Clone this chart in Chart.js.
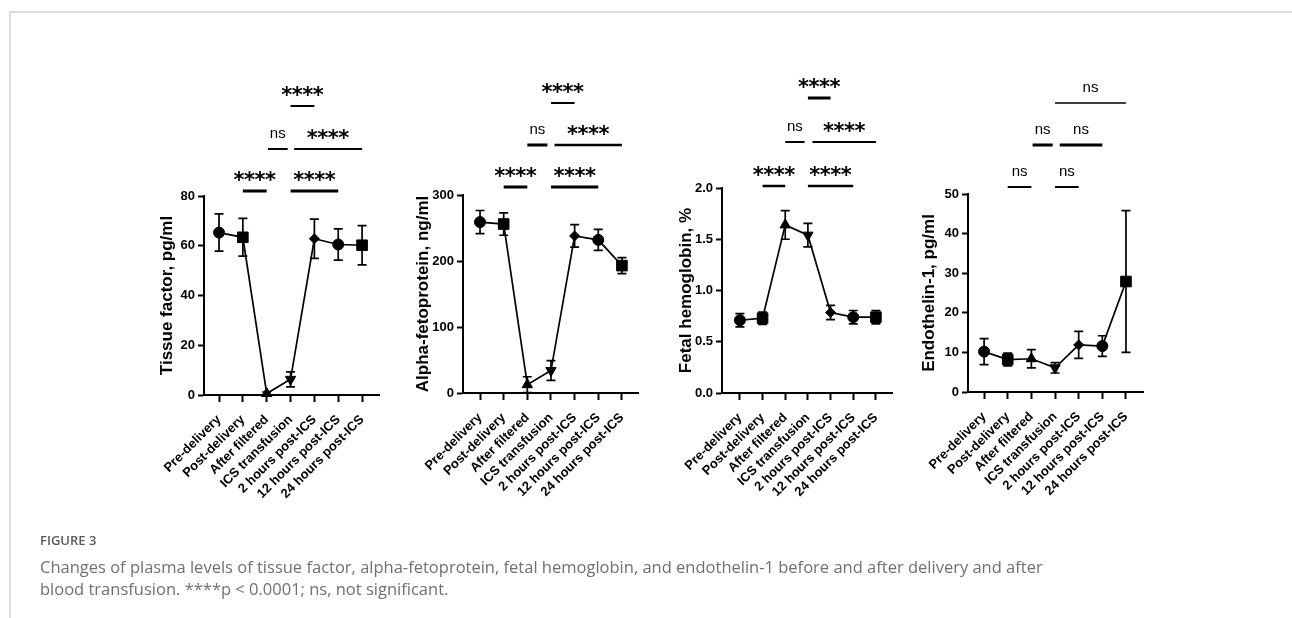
<!DOCTYPE html>
<html>
<head>
<meta charset="utf-8">
<script src="https://cdn.jsdelivr.net/npm/chart.js@4.4.1/dist/chart.umd.min.js"></script>
<style>
html,body{margin:0;padding:0;background:#fff;width:1292px;height:618px;overflow:hidden;}
body{position:relative;}
canvas.p{position:absolute;left:0;top:0;}
#frameTop{position:absolute;left:9px;top:11px;width:1283px;height:2px;background:#dddddd;}
#frameLeft{position:absolute;left:9px;top:11px;width:2px;height:607px;background:#dddddd;}
#figlab{position:absolute;left:40px;top:532px;font-family:'Open Sans',sans-serif;font-weight:600;font-size:13px;line-height:17px;color:#5a5a5a;white-space:nowrap;}
#cap{position:absolute;left:40px;top:556px;font-family:'Open Sans',sans-serif;font-size:16.5px;line-height:21.5px;color:#707070;white-space:nowrap;}
</style>
</head>
<body>
<div id="frameTop"></div>
<div id="frameLeft"></div>
<canvas class="p" id="c0" width="1292" height="618"></canvas>
<canvas class="p" id="c1" width="1292" height="618"></canvas>
<canvas class="p" id="c2" width="1292" height="618"></canvas>
<canvas class="p" id="c3" width="1292" height="618"></canvas>
<div id="figlab">FIGURE 3</div>
<div id="cap">Changes of plasma levels of tissue factor, alpha-fetoprotein, fetal hemoglobin, and endothelin-1 before and after delivery and after<br>blood transfusion. ****p &lt; 0.0001; ns, not significant.</div>
<script>
// ---------- data ----------
const categories = ['Pre-delivery','Post-delivery','After filtered','ICS transfusion','2 hours post-ICS','12 hours post-ICS','24 hours post-ICS'];

const tfMean  = [65.3, 63.4, 0.6, 6.3, 62.8, 60.5, 60.2];
const tfErr   = [7.5, 7.6, 0.6, 3.0, 7.9, 6.3, 7.9];
const afpMean = [259, 256, 12.6, 34, 238, 232, 193];
const afpErr  = [17.5, 17, 12, 15, 17, 16, 12];
const hbfMean = [0.71, 0.73, 1.64, 1.54, 0.785, 0.74, 0.74];
const hbfErr  = [0.065, 0.06, 0.14, 0.115, 0.07, 0.065, 0.065];
const et1Mean = [10.2, 8.2, 8.4, 6.1, 11.9, 11.6, 27.9];
const et1Err  = [3.3, 1.6, 2.3, 1.3, 3.4, 2.6, 17.9];

const yTitles   = ['Tissue factor, pg/ml','Alpha-fetoprotein, ng/ml','Fetal hemoglobin, %','Endothelin-1, pg/ml'];
const yMax      = [80, 300, 2.0, 50];
const yStep     = [20, 100, 0.5, 10];
const yDecimals = [0, 0, 1, 0];

// comparisons: [from, to, label, tier]
const tfSig  = [[1,2,'****',0],[3,5,'****',0],[2.05,2.88,'ns',1],[3.15,6,'****',1],[3,4,'****',2]];
const afpSig = [[1,2,'****',0],[3,5,'****',0],[2,2.85,'ns',1],[3.15,6,'****',1],[3,4,'****',2]];
const hbfSig = [[1,2,'****',0],[3,5,'****',0],[2,2.85,'ns',1],[3.2,6,'****',1],[3,4,'****',2]];
const et1Sig = [[1,2,'ns',0],[3,4,'ns',0],[2.05,2.9,'ns',1],[3.2,5,'ns',1],[3,6,'ns',2]];

const means = [tfMean, afpMean, hbfMean, et1Mean];
const errs  = [tfErr, afpErr, hbfErr, et1Err];
const sigs  = [tfSig, afpSig, hbfSig, et1Sig];

// ---------- layout / style ----------
const markerStyle = ['circle','rect','triangle','triangle','rectRot','circle','rect'];
const markerRot   = [0,0,0,180,0,0,0];
const markerSize  = [5.5,7.5,6,6,5,5.5,7.5];

const panelLayout = [
  {left:204,right:379,top:196,bottom:395,titleX:167,xMin:-0.63,xMax:6.71,tiers:[191,149,106],weights:[3,3,2,2,2]},
  {left:463,right:638,top:195,bottom:393,titleX:423,xMin:-0.72,xMax:6.68,tiers:[187,145,103],weights:[3,3,3,2.5,2]},
  {left:722,right:892,top:188,bottom:393,titleX:686,xMin:-0.79,xMax:6.71,tiers:[186,142,98],weights:[2.5,2.5,2,2,3]},
  {left:968,right:1143,top:194,bottom:392,titleX:929,xMin:-0.68,xMax:6.72,tiers:[187,145,103],weights:[2,2,3,3,1.5]}
];
const X_AXIS_H = 150;
const TITLE_SIZE = 17;
const FONT = "'Liberation Sans', Arial, sans-serif";

const errorBars = {
  id:'errorBars',
  beforeDatasetsDraw(chart, args, opts){
    const ctx = chart.ctx, ys = chart.scales.y, xs = chart.scales.x;
    const m = opts.mean, e = opts.err;
    ctx.save();
    ctx.strokeStyle = '#000'; ctx.lineWidth = 1.7;
    m.forEach((v,k)=>{
      const x = xs.getPixelForValue(k);
      const lo = ys.getPixelForValue(Math.max(0, v - e[k]));
      const hi = ys.getPixelForValue(v + e[k]);
      ctx.beginPath();
      ctx.moveTo(x, lo); ctx.lineTo(x, hi);
      ctx.moveTo(x-4.5, lo); ctx.lineTo(x+4.5, lo);
      ctx.moveTo(x-4.5, hi); ctx.lineTo(x+4.5, hi);
      ctx.stroke();
    });
    ctx.restore();
  }
};

const brackets = {
  id:'brackets',
  afterDraw(chart, args, opts){
    const ctx = chart.ctx, xs = chart.scales.x;
    const L = opts.layout;
    ctx.save();
    ctx.fillStyle = '#000';
    ctx.textAlign = 'center';
    ctx.textBaseline = 'alphabetic';
    opts.sig.forEach((s,k)=>{
      const x1 = xs.getPixelForValue(s[0]);
      const x2 = xs.getPixelForValue(s[1]);
      const y = L.tiers[s[3]];
      const w = L.weights[k];
      ctx.fillRect(x1, y - w/2, x2 - x1, w);
      const cx = (x1 + x2)/2;
      if (s[2] === 'ns') {
        ctx.font = "15px " + FONT;
        ctx.fillText('ns', cx, y - 11);
      } else {
        ctx.font = "bold 21px 'DejaVu Sans', sans-serif";
        const n = s[2].length, sp = 10.5;
        for (let i=0;i<n;i++){
          ctx.fillText('*', cx + (i - (n-1)/2)*sp, y - 4);
        }
      }
    });
    ctx.restore();
  }
};

for (let i=0;i<4;i++){
  const L = panelLayout[i];
  const titleOff = TITLE_SIZE*1.2/2;
  new Chart(document.getElementById('c'+i), {
    type:'line',
    data:{
      datasets:[{
        data: means[i].map((v,k)=>({x:k, y:v})),
        borderColor:'#000', borderWidth:1.7, backgroundColor:'#000',
        pointStyle: markerStyle, pointRotation: markerRot, pointRadius: markerSize,
        pointBackgroundColor:'#000', pointBorderColor:'#000', pointBorderWidth:1,
        tension:0, clip:false
      }]
    },
    options:{
      responsive:false, devicePixelRatio:1, animation:false, events:[],
      layout:{padding:{left:L.titleX-titleOff, right:1292-L.right, top:L.top, bottom:618-L.bottom-X_AXIS_H}},
      plugins:{
        legend:{display:false}, tooltip:{enabled:false},
        errorBars:{mean:means[i], err:errs[i]},
        brackets:{sig:sigs[i], layout:L}
      },
      scales:{
        x:{
          type:'linear', min:L.xMin, max:L.xMax,
          afterBuildTicks: s => { s.ticks = categories.map((_,k)=>({value:k})); },
          afterFit: s => { s.height = X_AXIS_H; },
          ticks:{autoSkip:false, maxRotation:45, minRotation:45, color:'#000', padding:10,
                 font:{family:FONT, size:13, weight:'bold'},
                 callback: v => categories[v]},
          grid:{drawOnChartArea:false, drawTicks:true, tickLength:7, tickWidth:2, tickColor:'#000'},
          border:{display:true, color:'#000', width:2}
        },
        y:{
          type:'linear', min:0, max:yMax[i],
          afterFit: s => { s.width = L.left - (L.titleX - titleOff); },
          ticks:{stepSize:yStep[i], color:'#000', padding:3,
                 font:{family:FONT, size:13, weight:'bold'},
                 callback: v => Number(v).toFixed(yDecimals[i])},
          grid:{drawOnChartArea:false, drawTicks:true, tickLength:6, tickWidth:2, tickColor:'#000'},
          border:{display:true, color:'#000', width:2},
          title:{display:true, text:yTitles[i], color:'#000', padding:{top:0,bottom:0},
                 font:{family:FONT, size:TITLE_SIZE, weight:'bold'}}
        }
      }
    },
    plugins:[errorBars, brackets]
  });
}
</script>
</body>
</html>
